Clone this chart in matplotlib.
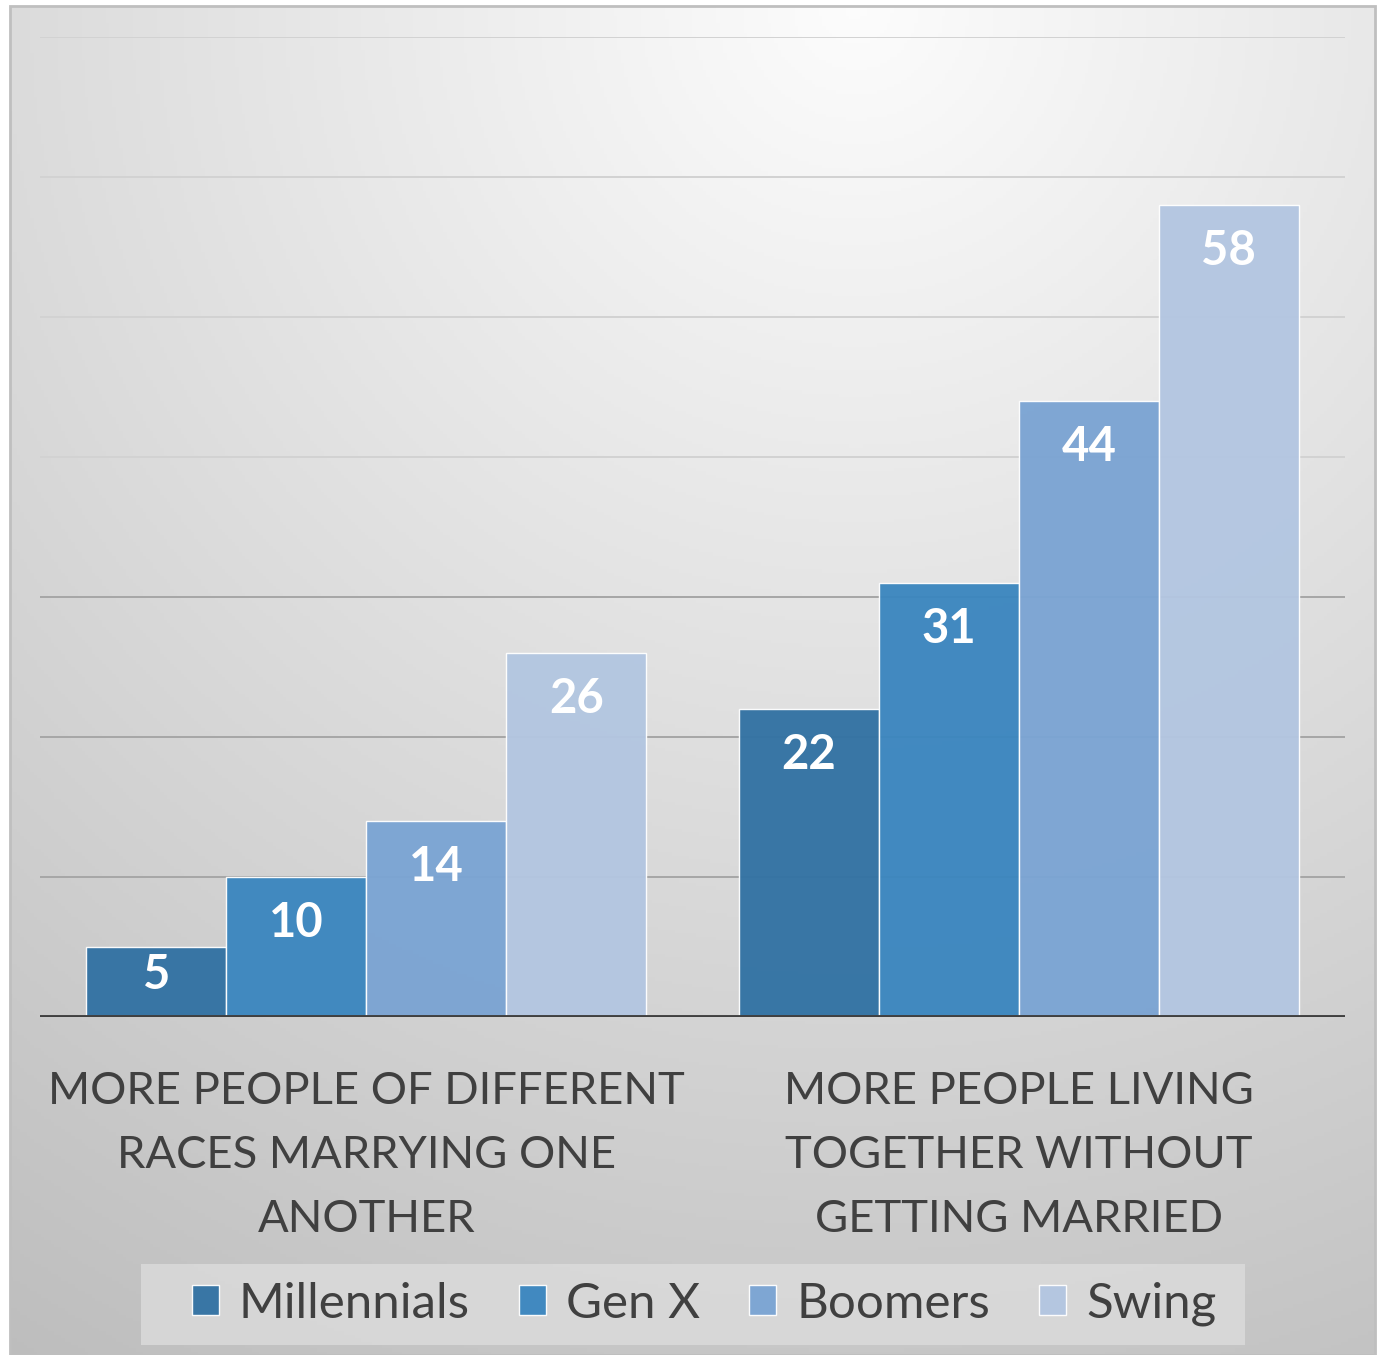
import matplotlib
matplotlib.use('Agg')
import matplotlib.pyplot as plt
import numpy as np
from matplotlib.patches import Rectangle

plt.rcParams.update({
    'font.family': ['Lato', 'DejaVu Sans'],
    'font.size': 12,
})

categories = ['MORE PEOPLE OF DIFFERENT\nRACES MARRYING ONE\nANOTHER',
              'MORE PEOPLE LIVING\nTOGETHER WITHOUT\nGETTING MARRIED']
series = ['Millennials', 'Gen X', 'Boomers', 'Swing']
values = {
    'Millennials': [5, 22],
    'Gen X': [10, 31],
    'Boomers': [14, 44],
    'Swing': [26, 58],
}
colors = ['#3272a3', '#3b86bf', '#7ba4d3', '#b3c6e1']
TEXT = '#404040'

W, H = 1382, 1355
fig = plt.figure(figsize=(W / 100, H / 100), dpi=100)
fig.patch.set_facecolor('white')

# gradient background of the chart frame
bg = fig.add_axes([10 / W, 0, 1365 / W, 1 - 6 / H])
bg.set_axis_off()
yy, xx = np.mgrid[0:1:400j, 0:1:400j]
d = np.sqrt((xx - 0.62) ** 2 + yy ** 2)
shade = np.clip(0.99 - 0.21 * d, 0, 1)
bg.imshow(np.dstack([shade] * 3), extent=[0, 1, 0, 1], aspect='auto', origin='upper')
bg.add_patch(Rectangle((0, 0), 1, 1, transform=bg.transAxes, fill=False,
                       edgecolor='#bfbfbf', lw=2, clip_on=False))
# legend box
bg.add_patch(Rectangle((141 / W, 1 - 1345 / H), 1104 / W, 81 / H,
                       transform=fig.transFigure, facecolor='#dcdcdc',
                       edgecolor='none', alpha=0.8, clip_on=False))
bg.set_xlim(0, 1)
bg.set_ylim(0, 1)

ax = fig.add_axes([40 / W, 1 - 1017 / H, 1305 / W, 980 / H])
ax.patch.set_alpha(0)

x = np.arange(len(categories))
bw = 140 / 652.5
for i, s in enumerate(series):
    pos = x + (i - 1.5) * bw
    bars = ax.bar(pos, values[s], width=bw, color=colors[i], alpha=0.96,
                  edgecolor=(1, 1, 1, 0.55), linewidth=1, label=s, zorder=3)
    for b, v in zip(bars, values[s]):
        ax.text(b.get_x() + b.get_width() / 2, v - min(3.3, v * 0.4), str(v),
                ha='center', va='center', color='white', fontsize=34,
                fontweight='bold', zorder=4)

ax.set_xlim(-0.5, 1.5)
ax.set_ylim(0, 70)
ticks = np.arange(10, 71, 10)
for t in ticks:
    c = '#a6a6a6' if t <= 30 else '#d2d2d2'
    ax.axhline(t, color=c, lw=1.4, zorder=1)
ax.axhline(0, color='#404040', lw=2.8, zorder=5)
for sp in ax.spines.values():
    sp.set_visible(False)
ax.set_yticks([])
ax.set_xticks(x)
ax.set_xticklabels(categories, fontsize=32.7, color=TEXT, linespacing=1.7)
ax.tick_params(axis='x', length=0, pad=39)

leg = ax.legend(loc='center', bbox_to_anchor=(664 / 1305, (1017 - 1304) / 980),
                ncol=4, fontsize=35.5, frameon=False, handlelength=0.55, handleheight=0.55,
                handletextpad=0.4, columnspacing=1.0, borderpad=0.4)
for t in leg.get_texts():
    t.set_color(TEXT)

fig.savefig('out.png', dpi=100, facecolor='white')
